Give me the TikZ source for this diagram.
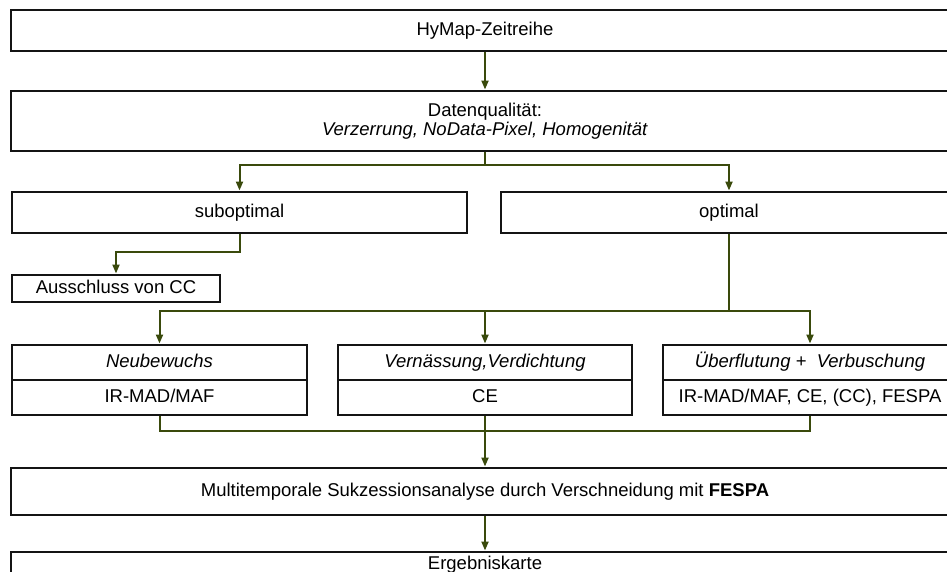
\documentclass[tikz,border=0pt]{standalone}
\usepackage{fontspec}
\setmainfont{Liberation Sans}
\usetikzlibrary{arrows.meta}
\definecolor{conncol}{RGB}{58,74,12}
\definecolor{boxcol}{RGB}{20,20,20}
\tikzset{
  box/.style={draw=boxcol, line width=2pt, fill=white, rectangle, inner sep=0pt,
    font=\fontsize{18.5}{19}\selectfont, align=center},
  onebox/.style={box, text height=13pt, text depth=4pt},
  conn/.style={draw=conncol, line width=2pt},
  arr/.style={conn, -{Triangle[length=9pt,width=7pt]}, shorten >=0.5pt},
}
\begin{document}
\begin{tikzpicture}[x=1pt,y=-1pt]
\useasboundingbox (0,0) rectangle (947,571);
\clip (0,0) rectangle (947,571);
\fill[white] (0,0) rectangle (947,571);

\node[onebox, minimum width=948pt, minimum height=41pt] (top) at (485,30.5) {HyMap-Zeitreihe};
\node[box, minimum width=948pt, minimum height=60pt] (dq) at (485,121)
  {Datenqualität:\\\textit{Verzerrung, NoData-Pixel, Homogenität}};

\node[onebox, minimum width=455pt, minimum height=41pt] (sub) at (239.5,212.5) {suboptimal};
\node[onebox, minimum width=456pt, minimum height=41pt] (opt) at (729,212.5) {optimal};

\node[onebox, minimum width=208pt, minimum height=27pt] (aus) at (116,288.5) {Ausschluss von CC};

\node[onebox, minimum width=295pt, minimum height=35pt] (neuA) at (159.5,362.5) {\textit{Neubewuchs}};
\node[onebox, minimum width=295pt, minimum height=35pt] (neuB) at (159.5,397.5) {IR-MAD/MAF};
\node[onebox, minimum width=294pt, minimum height=35pt] (verA) at (485,362.5) {\textit{Vernässung,Verdichtung}};
\node[onebox, minimum width=294pt, minimum height=35pt] (verB) at (485,397.5) {CE};
\node[onebox, minimum width=294pt, minimum height=35pt] (uebA) at (810,362.5) {\textit{Überflutung +\ \ Verbuschung}};
\node[onebox, minimum width=294pt, minimum height=35pt] (uebB) at (810,397.5) {IR-MAD/MAF, CE, (CC), FESPA};

\node[onebox, minimum width=948pt, minimum height=47pt] (multi) at (485,491.5)
  {Multitemporale Sukzessionsanalyse durch Verschneidung mit \textbf{FESPA}};

\node[box, minimum width=948pt, minimum height=40pt,
  label={[anchor=north, inner sep=0pt, yshift=-5pt, font=\fontsize{18.5}{19}\selectfont]north:Ergebniskarte}]
  (erg) at (485,572) {};

% connectors
\coordinate (j1) at (485,165);
\coordinate (j2) at (239.5,252);
\coordinate (j3) at (729,311);
\coordinate (j4) at (485,431);

\draw[arr] (top.south) -- (dq.north);
\draw[conn] (dq.south) -- (j1);
\draw[arr] (j1) -| (sub.north);
\draw[arr] (j1) -| (opt.north);

\draw[arr] (sub.south) -- (j2) -| (aus.north);

\draw[conn] (opt.south) -- (j3);
\draw[arr] (j3) -| (neuA.north);
\draw[arr] (j3) -| (uebA.north);
\draw[arr] (verA.north |- j3) -- (verA.north);

\draw[conn] (neuB.south) |- (j4);
\draw[conn] (uebB.south) |- (j4);
\draw[arr] (verB.south) -- (multi.north);

\draw[arr] (multi.south) -- (erg.north);
\end{tikzpicture}
\end{document}
